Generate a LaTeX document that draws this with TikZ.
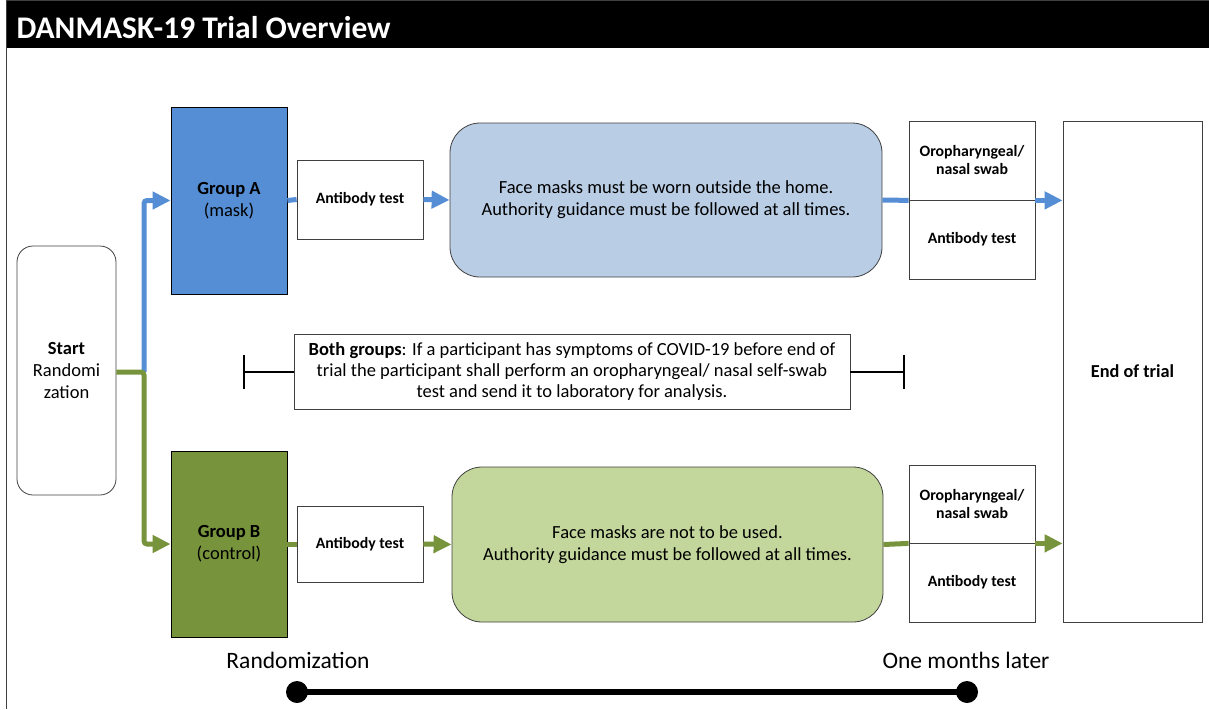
\documentclass[tikz,border=0pt]{standalone}
\usepackage{fontspec}
\setmainfont{Carlito}
\usetikzlibrary{arrows.meta,positioning}
\definecolor{maskblue}{HTML}{558ED5}
\definecolor{ctrlgreen}{HTML}{77933C}
\definecolor{lightblue}{HTML}{B9CDE5}
\definecolor{lightgreen}{HTML}{C3D69B}
\definecolor{edge}{HTML}{404040}
\tikzset{
	box/.style={draw=edge, line width=0.8pt, inner sep=0pt, align=center},
	small/.style={font=\fontsize{15.8}{18}\selectfont\bfseries},
	body/.style={font=\fontsize{18.5}{22}\selectfont},
	flow/.style={line width=5pt, rounded corners=3pt},
	tip/.style={-{Triangle[length=18pt,width=17pt]}},
}
\begin{document}
\begin{tikzpicture}[x=1pt,y=-1pt]
		\useasboundingbox (0,0) rectangle (1209,709);
		% Title bar and frame
		\fill[black] (6,1) rectangle (1209,48);
		\draw[edge, line width=1pt] (6,709) -- (6,1) -- (1209,1);
		\node[anchor=west, text=white, font=\fontsize{31.5}{34}\selectfont\bfseries] (title) at (13,28) {DANMASK-19 Trial Overview};
		% Start and the two groups
		\node[box, rounded corners=16pt, minimum width=99pt, minimum height=249pt, body] (start) at (66.5,370.5) {\textbf{Start}\\Randomi\\zation};
		\node[box, draw=black, fill=maskblue, minimum width=116pt, minimum height=187pt, body] (grpA) at (229,200.5) {\textbf{Group A}\\(mask)};
		\node[box, draw=black, fill=ctrlgreen, minimum width=116pt, minimum height=186pt, body] (grpB) at (229,544) {\textbf{Group B}\\(control)};
		% Antibody tests at randomization
		\node[box, minimum width=126pt, minimum height=79pt, small] (abA) at (360,199.5) {Antibody test};
		\node[box, minimum width=126pt, minimum height=76pt, small] (abB) at (360,544) {Antibody test};
		% Instructions for each group
		\node[box, rounded corners=30pt, fill=lightblue, minimum width=432pt, minimum height=154pt, body] (rulesA) at (666,200) {Face masks must be worn outside the home.\\Authority guidance must be followed at all times.};
		\node[box, rounded corners=30pt, fill=lightgreen, minimum width=431pt, minimum height=155pt, body] (rulesB) at (667.5,544.5) {Face masks are not to be used.\\Authority guidance must be followed at all times.};
		% Tests one month later
		\node[box, minimum width=126pt, minimum height=79pt, small] (swabA) at (972,160.5) {Oropharyngeal/\\nasal swab};
		\node[box, minimum width=126pt, minimum height=79pt, small] (abA2) at (972,239.5) {Antibody test};
		\node[box, minimum width=126pt, minimum height=78pt, small] (swabB) at (972,504) {Oropharyngeal/\\nasal swab};
		\node[box, minimum width=126pt, minimum height=79pt, small] (abB2) at (972,582.5) {Antibody test};
		\node[box, minimum width=139pt, minimum height=501pt, font=\fontsize{18.3}{22}\selectfont\bfseries] (end) at (1132.5,371.5) {End of trial};
		% Both groups note
		\node[box, minimum width=556pt, minimum height=75pt, body, font=\fontsize{18.5}{21}\selectfont] (both) at (572,371.5) {\textbf{Both groups}: If a participant has symptoms of COVID-19 before end of\\trial the participant shall perform an oropharyngeal/ nasal self-swab\\test and send it to laboratory for analysis.};
		\coordinate (barL) at (243,371.5);
		\coordinate (barR) at (905,371.5);
		\draw[line width=2pt, -{Bar[width=34pt]}] (both.west) -- (barL);
		\draw[line width=2pt, -{Bar[width=34pt]}] (both.east) -- (barR);
		% Flow of group A
		\coordinate (split) at (144,372);
		\draw[flow, maskblue, tip] (split) |- (grpA.west);
		\draw[flow, maskblue] (grpA.east) -- (abA.west);
		\draw[flow, maskblue, tip] (abA.east) -- (rulesA.west);
		\draw[flow, maskblue] (rulesA.east) -- (swabA.south west);
		\draw[flow, maskblue, tip] (swabA.south east) -- (swabA.south east -| end.west);
		% Flow of group B
		\draw[flow, ctrlgreen, tip] (start.east |- split) -- (split) |- (grpB.west);
		\draw[flow, ctrlgreen] (grpB.east) -- (abB.west);
		\draw[flow, ctrlgreen, tip] (abB.east) -- (rulesB.west);
		\draw[flow, ctrlgreen] (rulesB.east) -- (swabB.south west);
		\draw[flow, ctrlgreen, tip] (swabB.south east) -- (swabB.south east -| end.west);
		% Time line
		\node[font=\fontsize{23.5}{26}\selectfont] (t0) at (298,660) {Randomization};
		\node[font=\fontsize{23.5}{26}\selectfont] (t1) at (966,660) {One months later};
		\coordinate (p0) at (297,692);
		\coordinate (p1) at (967,692);
		\draw[line width=6pt] (p0) -- (p1);
		\fill (p0) circle (11pt);
		\fill (p1) circle (11pt);
\end{tikzpicture}
\end{document}
